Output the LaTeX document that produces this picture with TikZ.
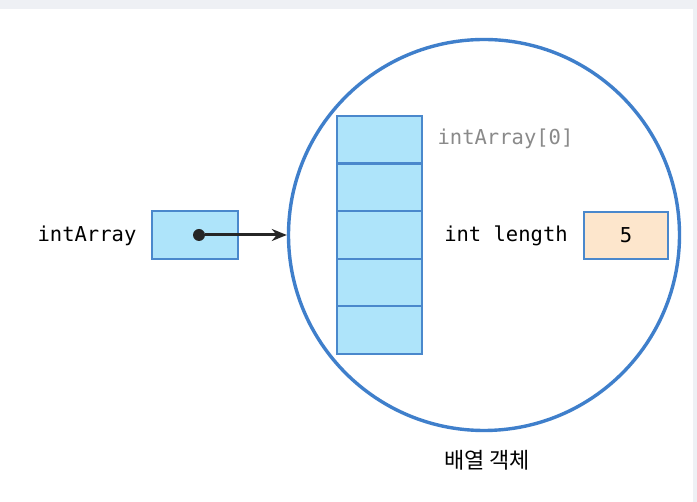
\documentclass[tikz,border=0pt]{standalone}
\usepackage{fontspec}
\setmonofont{DejaVu Sans Mono}
\newfontfamily\krfont{Noto Sans CJK KR}
\usetikzlibrary{arrows.meta}
\definecolor{objblue}{HTML}{3F7FCB}
\definecolor{cellfill}{HTML}{AEE4FA}
\definecolor{cellline}{HTML}{4A88CC}
\definecolor{valfill}{HTML}{FDE6CC}
\definecolor{idxgray}{HTML}{8A8A8A}
\definecolor{screen}{HTML}{EEF0F4}
\tikzset{
  cell/.style={draw=cellline,fill=cellfill,line width=2.2pt,minimum width=85pt,minimum height=47.6pt,inner sep=0pt},
  valbox/.style={draw=cellline,fill=valfill,line width=2.2pt,minimum width=84pt,minimum height=47pt,inner sep=0pt},
  code/.style={font=\fontsize{20.5}{24}\selectfont\ttfamily,inner sep=0pt}
}
\begin{document}
\begin{tikzpicture}[>={Stealth[length=15pt,width=12pt]},x=1pt,y=-1pt]
	\useasboundingbox (0,0) rectangle (697,502);
	\fill[white] (0,0) rectangle (697,502);
	%screen edges
	\fill[screen] (0,0) rectangle (697,9);
	\fill[screen] (693,0) rectangle (697,502);
	%Reference variable
	\node[code] (ref) at (87,236) {intArray};
	\node[cell,minimum width=86pt,minimum height=48pt] (refbox) at (195,235) {};
	\node[circle,fill=black!85,inner sep=0pt,minimum size=12pt] (dot) at (199,235) {};
	%Array object
	\node[circle,draw=objblue,line width=3.4pt,minimum size=391pt,inner sep=0pt] (obj) at (484,235) {};
	%Cells
	\foreach \i in {0,...,4}
		\node[cell] (c\i) at (379.5,139.8+47.6*\i) {};
	\node[code,text=idxgray] (idx) at (505.5,139) {intArray[0]};
	%Length field
	\node[code] (len) at (506,236) {int length};
	\node[valbox] (val) at (626,235.5) {};
	\node[code] (five) at (val) {5};
	\node[inner sep=0pt,font=\krfont\fontsize{22}{26}\selectfont] (name) at (487,460) {배열 객체};
	%Arrow
	\draw[->,line width=3pt,black!85] (dot) -- (obj.west);
\end{tikzpicture}
\end{document}
